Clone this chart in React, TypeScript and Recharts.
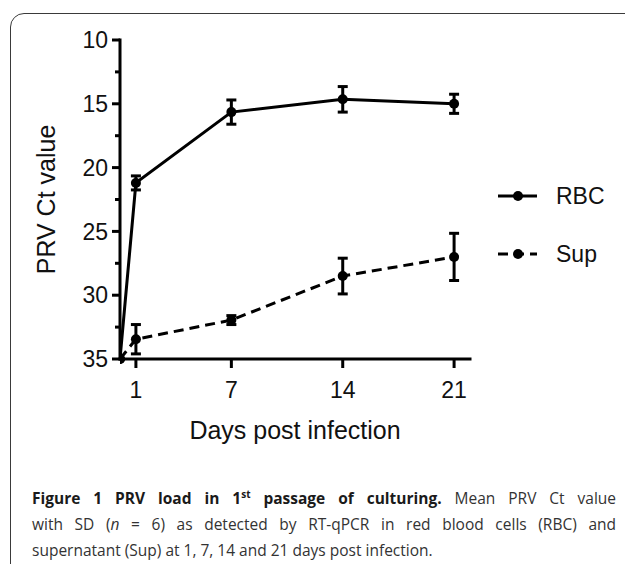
import React from 'react';
import { LineChart, Line, XAxis, YAxis, ErrorBar } from 'recharts';

// Ct values (mean and SD, n = 6)
const days = [0, 1, 7, 14, 21];
const rbcCt = [35, 21.2, 15.65, 14.65, 15.0];
const rbcSd = [0, 0.55, 0.95, 1.0, 0.75];
const supCt = [35, 33.45, 31.95, 28.5, 27.0];
const supSd = [0, 1.15, 0.35, 1.4, 1.85];

const xTicks = [1, 7, 14, 21];
const yTicks = [10, 12.5, 15, 17.5, 20, 22.5, 25, 27.5, 30, 32.5, 35];
const yMajor = [10, 15, 20, 25, 30, 35];

const series = [
  { key: 'rbc', err: 'rbcErr', name: 'RBC', dash: undefined as string | undefined },
  { key: 'sup', err: 'supErr', name: 'Sup', dash: '10 6' },
];

const data = days.map((d, i) => ({
  day: d,
  rbc: rbcCt[i],
  rbcErr: rbcSd[i],
  sup: supCt[i],
  supErr: supSd[i],
}));

const FONT = 'Arial, "Liberation Sans", sans-serif';
const Y_TICK = 8;
const Y_MARGIN = 4;

function YTick(props: any) {
  const { x, y, payload } = props;
  const major = yMajor.includes(payload.value);
  const axisX = x + Y_MARGIN + Y_TICK;
  return (
    <g>
      <line x1={axisX - (major ? Y_TICK : 5)} x2={axisX} y1={y} y2={y} stroke="#000" strokeWidth={3} />
      {major && (
        <text x={x} y={y} dy="0.36em" textAnchor="end" fontSize={23} fontFamily={FONT} fill="#111">
          {payload.value}
        </text>
      )}
    </g>
  );
}

function LegendBox() {
  return (
    <div style={{ fontFamily: FONT, fontSize: 23, color: '#111' }}>
      {series.map(s => (
        <div key={s.key} style={{ display: 'flex', alignItems: 'center', height: 58 }}>
          <svg width={60} height={14} style={{ flex: 'none' }}>
            <line x1={2} x2={41} y1={7} y2={7} stroke="#000" strokeWidth={3} strokeDasharray={s.dash} />
            <circle cx={22} cy={7} r={5} fill="#000" />
          </svg>
          <span>{s.name}</span>
        </div>
      ))}
    </div>
  );
}

const justified = { textAlign: 'justify' as const, textAlignLast: 'justify' as const, width: 584 };

export default function App() {
  return (
    <div style={{ position: 'relative', width: 625, height: 564, overflow: 'hidden', background: '#fff' }}>
      <style>{'body{margin:0}'}</style>
      <div
        style={{
          position: 'absolute', left: 10, top: 13, width: 660, height: 620,
          border: '1.5px solid #3a3a3a', borderRadius: 14,
        }}
      />
      <div style={{ position: 'absolute', left: 0, top: 0 }}>
        <LineChart width={625} height={480} data={data} margin={{ top: 40, right: 155, left: 40, bottom: 21 }}>
          <XAxis
            type="number"
            dataKey="day"
            domain={[0, 22]}
            ticks={xTicks}
            allowDataOverflow
            height={100}
            tickSize={9}
            tickMargin={14}
            axisLine={{ stroke: '#000', strokeWidth: 3, strokeLinecap: 'square' }}
            tickLine={{ stroke: '#000', strokeWidth: 3 }}
            tick={{ fontSize: 23, fontFamily: FONT, fill: '#111' }}
            label={{ value: 'Days post infection', position: 'insideBottom', offset: 20, fontSize: 25, fontFamily: FONT, fill: '#111' }}
          />
          <YAxis
            type="number"
            reversed
            domain={[10, 35]}
            ticks={yTicks}
            interval={0}
            width={80}
            tickSize={Y_TICK}
            tickMargin={Y_MARGIN}
            tickLine={false}
            axisLine={{ stroke: '#000', strokeWidth: 3, strokeLinecap: 'square' }}
            tick={<YTick />}
            label={{ value: 'PRV Ct value', angle: -90, position: 'insideLeft', offset: 6, fontSize: 25, fontFamily: FONT, fill: '#111', style: { textAnchor: 'middle' } }}
          />
          {series.map(s => (
            <Line
              key={s.key}
              dataKey={s.key}
              name={s.name}
              type="linear"
              stroke="#000"
              strokeWidth={3}
              strokeDasharray={s.dash}
              dot={{ r: 5, fill: '#000', stroke: '#000', strokeWidth: 0, strokeDasharray: '' }}
              isAnimationActive={false}
            >
              <ErrorBar dataKey={s.err} width={5} strokeWidth={3} stroke="#000" direction="y" />
            </Line>
          ))}
        </LineChart>
      </div>
      <div style={{ position: 'absolute', left: 496, top: 167 }}>
        <LegendBox />
      </div>
      <div
        style={{
          position: 'absolute', left: 32, top: 485, whiteSpace: 'nowrap',
          fontFamily: '"Open Sans", sans-serif', fontSize: 15.5, lineHeight: '26px', color: '#333',
        }}
      >
        <div style={justified}>
          <b style={{ color: '#1a1a1a' }}>
            Figure 1 PRV load in 1<sup style={{ fontSize: 10, lineHeight: 0 }}>st</sup> passage of culturing.
          </b>{' '}
          Mean PRV Ct value
        </div>
        <div style={justified}>
          with SD (<i>n</i> = 6) as detected by RT-qPCR in red blood cells (RBC) and
        </div>
        <div>supernatant (Sup) at 1, 7, 14 and 21 days post infection.</div>
      </div>
    </div>
  );
}
